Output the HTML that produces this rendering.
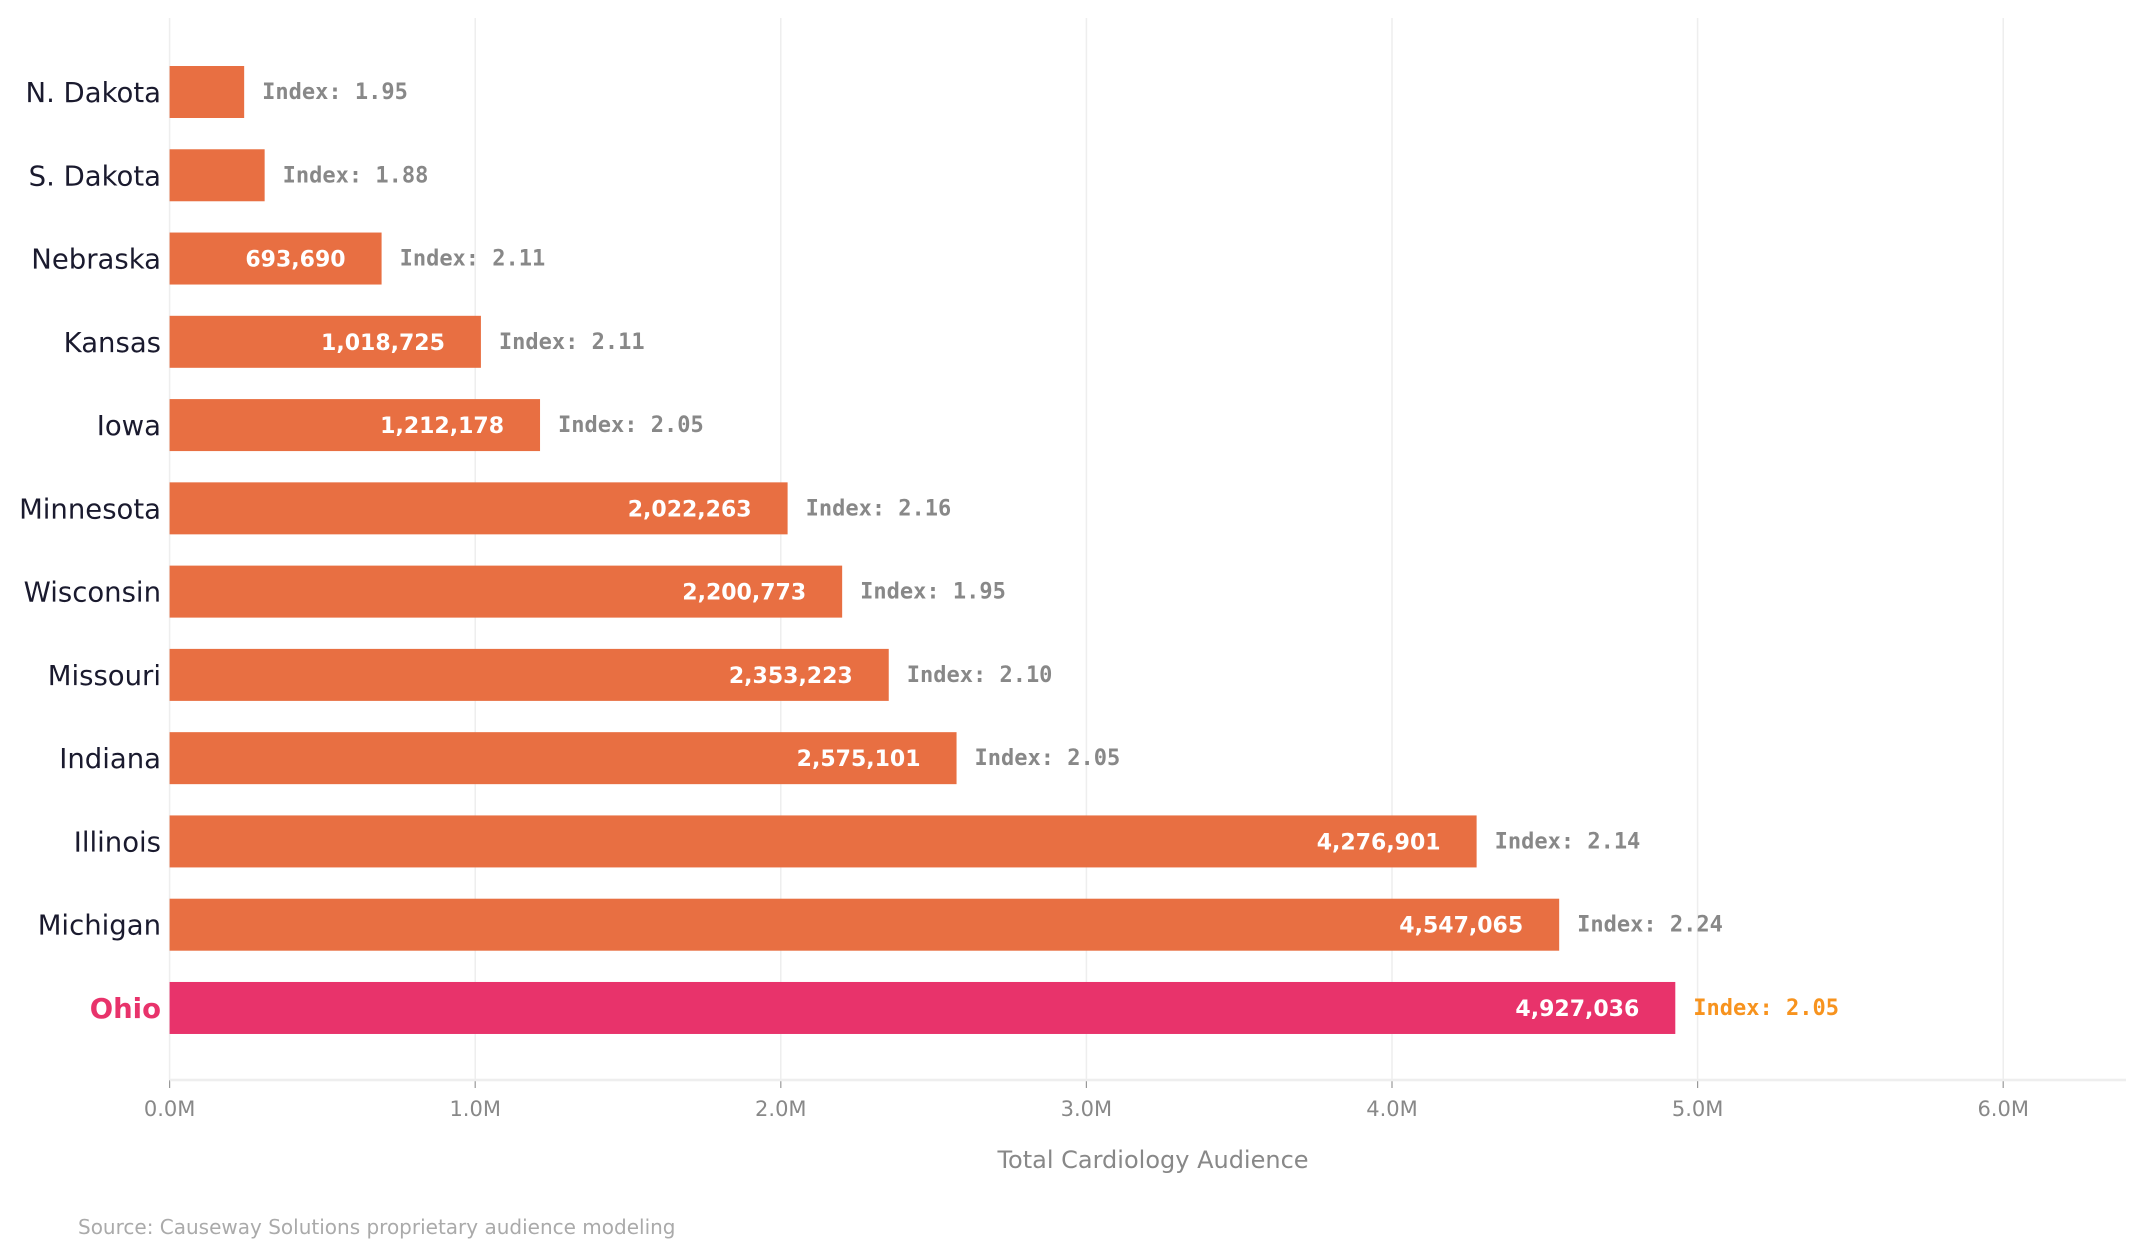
<!DOCTYPE html>
<html><head><meta charset="utf-8"><style>
body{margin:0;background:#fff;}
svg{display:block;font-family:"DejaVu Sans","Liberation Sans",sans-serif;}
</style></head><body>
<svg id="chart" width="2142" height="1256"></svg>
<script>
const categories=["N. Dakota","S. Dakota","Nebraska","Kansas","Iowa","Minnesota","Wisconsin","Missouri","Indiana","Illinois","Michigan","Ohio"];
const audience=[244000,311000,693690,1018725,1212178,2022263,2200773,2353223,2575101,4276901,4547065,4927036];
const indexValues=["1.95","1.88","2.11","2.11","2.05","2.16","1.95","2.10","2.05","2.14","2.24","2.05"];
const showValue=[false,false,true,true,true,true,true,true,true,true,true,true];
const tickValues=[0,1e6,2e6,3e6,4e6,5e6,6e6];
const tickLabels=["0.0M","1.0M","2.0M","3.0M","4.0M","5.0M","6.0M"];
const highlight="Ohio";

const NS="http://www.w3.org/2000/svg";
const svg=document.getElementById('chart');
const x0=169.6, pxPerUnit=305.6/1e6, plotTop=18, plotBottom=1080, plotRight=2126;
const xs=v=>x0+v*pxPerUnit;
const y0=92, step=83.27, barH=52;
const ys=i=>y0+i*step;
function el(tag,attrs,text){const e=document.createElementNS(NS,tag);for(const k in attrs)e.setAttribute(k,attrs[k]);if(text!==undefined)e.textContent=text;svg.appendChild(e);return e;}

tickValues.forEach((t,i)=>{
  const g=el('line',{x1:xs(t),x2:xs(t),y1:plotTop,y2:plotBottom,stroke:'#eeeeee','stroke-width':1.5});
  
  
  const tk=el('line',{x1:xs(t),x2:xs(t),y1:plotBottom,y2:plotBottom+8,stroke:'#999','stroke-width':1.2});
  
  
  const lb=el('text',{x:xs(t),y:1116,'text-anchor':'middle','font-size':21,fill:'#888'},tickLabels[i]);
  
  
});
const ax=el('line',{x1:x0,x2:plotRight,y1:plotBottom,y2:plotBottom,stroke:'#eeeeee','stroke-width':2.5});



categories.forEach((c,i)=>{
  const hi=c===highlight;
  const cy=ys(i);
  const w=xs(audience[i])-x0;
  const r=el('rect',{x:x0,y:cy-barH/2,width:w,height:barH,fill:hi?'#E8336B':'#E86F42'});
  
  
  const cl=el('text',{x:161,y:cy+10,'text-anchor':'end','font-size':27.5,fill:hi?'#E8336B':'#1a1a2e','font-weight':hi?'bold':'normal'},c);
  
  
  if(showValue[i]){
    const vl=el('text',{x:xs(audience[i])-36,y:cy+8,'text-anchor':'end','font-size':22,'font-weight':'bold',fill:'#fff'},audience[i].toLocaleString('en-US'));
    
    
  }
  const il=el('text',{x:xs(audience[i])+18,y:cy+7,'font-size':22,'font-weight':'bold','font-family':'"DejaVu Sans Mono","Liberation Mono",monospace',fill:hi?'#F7931E':'#888'},'Index: '+indexValues[i]);
  
  
});
const at=el('text',{x:1153,y:1168,'text-anchor':'middle','font-size':24,fill:'#888'},'Total Cardiology Audience');


const src=el('text',{x:78,y:1234,'font-size':20,fill:'#aaa'},'Source: Causeway Solutions proprietary audience modeling');


</script>
</body></html>
